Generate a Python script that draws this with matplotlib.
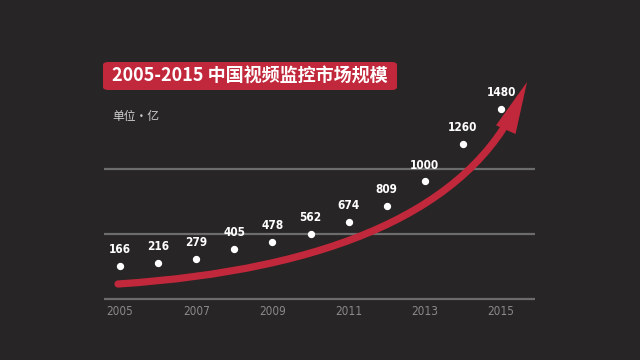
import numpy as np
import matplotlib
matplotlib.use("Agg")
import matplotlib.pyplot as plt
from matplotlib.patches import FancyBboxPatch, FancyArrowPatch
from matplotlib.path import Path

years = [2005, 2006, 2007, 2008, 2009, 2010, 2011, 2012, 2013, 2014, 2015]
values = [166, 216, 279, 405, 478, 562, 674, 809, 1000, 1260, 1480]
xtick_years = [2005, 2007, 2009, 2011, 2013, 2015]
title = "2005-2015 中国视频监控市场规模"
unit_label = "单位·亿"

BG = "#272525"
RED = "#C1283B"
GRID = "#6c6c6c"
TICK = "#8a8a8a"

NUM_FONT = ["DejaVu Sans"]
CJK_FONT = ["Noto Sans CJK SC", "DejaVu Sans"]

W, H = 640, 360
fig = plt.figure(figsize=(6.4, 3.6), dpi=100, facecolor=BG)
ax = fig.add_axes([104 / W, (H - 298.5) / H, 431 / W, 238.5 / H])
ax.set_facecolor(BG)

p = 1.5
fwd = lambda v: np.sign(v) * np.abs(v) ** p
inv = lambda t: np.sign(t) * np.abs(t) ** (1 / p)
ax.set_yscale("function", functions=(fwd, inv))
ax.set_ylim(-442, 1762)
ax.set_xlim(2004.58, 2015.89)

# decorative grid lines (axes fraction)
for f in [0.0, 0.2725, 0.543]:
    ax.plot([0, 1], [f, f], transform=ax.transAxes, color=GRID, lw=1.6,
            solid_capstyle="butt", zorder=1, clip_on=False)

# decorative red growth arrow (in axes fraction)
def px2ax(x, y):
    return ((x - 104) / 431, (298.5 - y) / 238.5)

verts = [px2ax(118, 284), px2ax(330, 270), px2ax(470, 210), px2ax(527, 82)]
path = Path(verts, [Path.MOVETO, Path.CURVE4, Path.CURVE4, Path.CURVE4])
arrow = FancyArrowPatch(path=path, arrowstyle="-|>,head_length=22,head_width=4.5",
                        color=RED, lw=5.2, capstyle="round", joinstyle="miter",
                        transform=ax.transAxes, shrinkA=0, shrinkB=0,
                        clip_on=False, zorder=2, mutation_scale=1)
ax.add_patch(arrow)

ax.scatter(years, values, s=18, color="white", zorder=4, clip_on=False)
for x, v in zip(years, values):
    ax.annotate(str(v), (x, v), xytext=(0, 7), textcoords="offset points",
                ha="center", va="bottom", color="white", fontsize=8.5,
                fontweight="bold", fontstretch="condensed", family=NUM_FONT,
                zorder=5)

for s in ax.spines.values():
    s.set_visible(False)
ax.set_yticks([])
ax.set_xticks(xtick_years)
ax.set_xticklabels([str(y) for y in xtick_years], family=NUM_FONT,
                   fontsize=8.5, color=TICK, fontstretch="condensed")
ax.tick_params(axis="x", length=0, pad=5)
ax.yaxis.set_minor_locator(matplotlib.ticker.NullLocator())

# title box
bx0, by0, bx1, by1 = 103, 62, 397, 90
box = FancyBboxPatch((bx0 / W, 1 - by1 / H), (bx1 - bx0) / W, (by1 - by0) / H,
                     boxstyle="round,pad=0,rounding_size=0.008",
                     transform=fig.transFigure, facecolor=RED, edgecolor="none")
fig.patches.append(box)
fig.text((bx0 + bx1) / 2 / W, 1 - 76.5 / H, title, ha="center", va="center",
         color="white", fontsize=13, fontweight="bold", family=CJK_FONT)

fig.text(112 / W, 1 - 117 / H, unit_label, ha="left", va="center",
         color="#cfcfcf", fontsize=8.5, family=CJK_FONT)

fig.savefig("out.png", dpi=100, facecolor=BG)
